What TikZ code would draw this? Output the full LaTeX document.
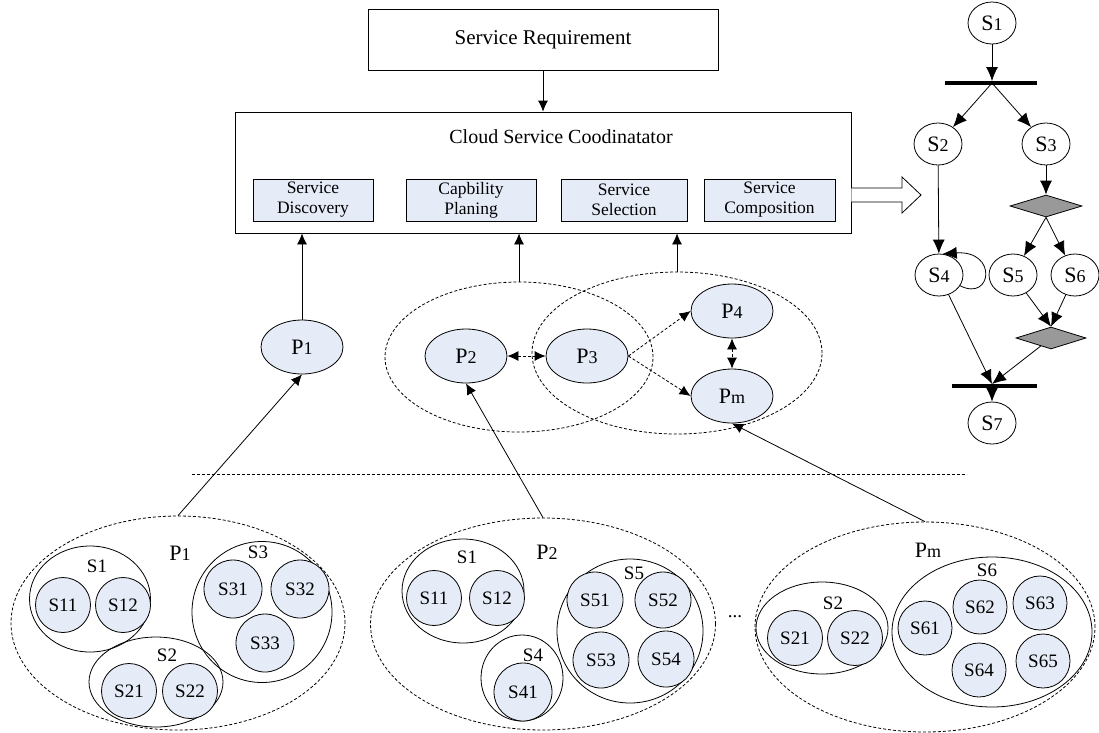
\documentclass[tikz,border=0pt]{standalone}
\usepackage{fontspec}
\setmainfont{Liberation Serif}
\usetikzlibrary{shapes.geometric,arrows.meta}
\definecolor{lb}{RGB}{230,236,247}
\definecolor{dg}{RGB}{153,153,153}
\newcommand{\fz}[1]{\fontsize{#1}{#1}\selectfont}
\newcommand{\smd}[2]{{\fontsize{#1}{#1}\selectfont #2}}
\begin{document}
\begin{tikzpicture}[x=1pt,y=-1pt,line width=0.8pt,
  arr/.style={-{Latex[length=11pt,width=10pt]}},
  farr/.style={-{Latex[length=14pt,width=12pt]}},
  darr/.style={dash pattern=on 3pt off 2pt},
  dtip/.style={{Latex[length=11pt,width=10pt]}-{Latex[length=11pt,width=10pt]}},
  bx/.style={draw,rectangle,inner sep=0pt},
  sub/.style={draw,rectangle,fill=lb,minimum height=42,inner sep=0pt,align=center,font=\fontsize{17.5}{20}\selectfont},
  pn/.style={ellipse,draw,fill=lb,minimum width=82,minimum height=54,inner sep=0pt,font=\fz{22}},
  sc/.style={circle,draw,fill=lb,minimum size=55,inner sep=0pt,font=\fz{19}},
  grp/.style={ellipse,draw,inner sep=0pt},
  dgrp/.style={ellipse,draw,inner sep=0pt,dash pattern=on 3pt off 2pt},
  fn/.style={ellipse,draw,fill=white,minimum width=48,minimum height=42,inner sep=0pt,font=\fz{22}},
  dia/.style={diamond,draw,fill=dg,minimum width=72,minimum height=22,inner sep=0pt},
  bar/.style={rectangle,fill=black,minimum height=4.5,inner sep=0pt},
  lbl/.style={inner sep=0pt,font=\fz{19}},
  plbl/.style={inner sep=0pt,font=\fz{22}}]
\useasboundingbox (0,0) rectangle (1099,732);
\fill[white] (0,0) rectangle (1099,732);

% ---- top boxes
\node[bx,minimum width=350,minimum height=61,font=\fz{21}] (sr) at (543,39.5) {Service Requirement};
\node[bx,minimum width=616,minimum height=121] (co) at (543,172.5) {};
\node[inner sep=0pt,font=\fz{20}] (cot) at (561,137) {Cloud Service Coodinatator};
\node[sub,minimum width=120] (sd) at (313,200) {Service\\Discovery};
\node[sub,minimum width=130] (cp) at (471,200) {Capbility\\Planing};
\node[sub,minimum width=126] (ss) at (624,200) {Service\\Selection};
\node[sub,minimum width=131] (sco) at (769.5,200) {Service\\Composition};
\draw[arr] (sr) -- (co);

% block arrow
\draw[fill=white] (co.east |- 0,188) -- (902,188) -- (902,177) -- (921,195) -- (902,213) -- (902,202) -- (co.east |- 0,202);

% ---- middle providers
\node[dgrp,minimum width=268,minimum height=150] (e1) at (519,357) {};
\node[dgrp,minimum width=290,minimum height=162] (e2) at (677,353) {};
\node[pn] (p1) at (302,347) {P\smd{18}{1}};
\node[pn] (p2) at (466,356) {P\smd{18}{2}};
\node[pn] (p3) at (587,356) {P\smd{18}{3}};
\node[pn] (p4) at (732,311) {P\smd{18}{4}};
\node[pn] (pm) at (732,396) {P\smd{18}{m}};
\draw[arr] (p1.north) -- (p1.north |- co.south);
\draw[arr] (e1.north) -- (e1.north |- co.south);
\draw[arr] (e2.north) -- (e2.north |- co.south);
\draw[darr,dtip] (p2) -- (p3);
\draw[darr,arr] (p3.east) -- (p4.west);
\draw[darr,arr] (p3.east) -- (pm.west);
\draw[darr,dtip] (p4) -- (pm);

% separator
\coordinate (sepl) at (192,474);
\coordinate (sepr) at (967,474);
\draw[darr] (sepl) -- (sepr);

% ---- cluster 1
\node[dgrp,minimum width=334,minimum height=214] (c1) at (178,623) {};
\node[grp,minimum width=121,minimum height=106] (g11) at (90,599) {};
\node[grp,minimum width=134,minimum height=90] (g12) at (156,682) {};
\node[grp,minimum width=140,minimum height=141] (g13) at (262,612) {};
\node[plbl] (l1p) at (180,553) {P\smd{18}{1}};
\node[lbl] (l1a) at (97,566) {S1};
\node[lbl] (l1b) at (167,655) {S2};
\node[lbl] (l1c) at (258,552) {S3};
\node[sc] (a11) at (63,605) {S11};
\node[sc] (a12) at (123,605) {S12};
\node[sc] (a21) at (129,691) {S21};
\node[sc] (a22) at (190,691) {S22};
\node[sc,minimum size=58] (a31) at (233,589) {S31};
\node[sc,minimum size=58] (a32) at (300,589) {S32};
\node[sc,minimum size=58] (a33) at (265,643) {S33};

% ---- cluster 2
\node[dgrp,minimum width=345,minimum height=212] (c2) at (543,624) {};
\node[grp,minimum width=122,minimum height=104] (g21) at (463,591) {};
\node[grp,minimum width=82,minimum height=86] (g22) at (522,678) {};
\node[grp,minimum width=146,minimum height=144] (g23) at (630,631) {};
\node[plbl] (l2p) at (547,552) {P\smd{18}{2}};
\node[lbl] (l2a) at (467,557) {S1};
\node[lbl] (l2b) at (533,655) {S4};
\node[lbl] (l2c) at (634,573) {S5};
\node[sc] (b11) at (434,598) {S11};
\node[sc] (b12) at (497,598) {S12};
\node[sc,minimum size=58] (b41) at (523,692) {S41};
\node[sc,minimum size=56] (b51) at (595,600) {S51};
\node[sc,minimum size=56] (b52) at (663,600) {S52};
\node[sc,minimum size=56] (b53) at (601,660) {S53};
\node[sc,minimum size=56] (b54) at (666,659) {S54};
\node[inner sep=0pt,font=\fz{19}] (dots) at (735,617) {...};

% ---- cluster 3
\node[dgrp,minimum width=340,minimum height=210] (c3) at (925,627) {};
\node[grp,minimum width=132,minimum height=92] (g31) at (822,628) {};
\node[grp,minimum width=200,minimum height=150] (g32) at (992,632) {};
\node[plbl] (l3p) at (928,550) {P\smd{18}{m}};
\node[lbl] (l3a) at (833,603) {S2};
\node[lbl] (l3b) at (987,570) {S6};
\node[sc] (d21) at (795,638) {S21};
\node[sc] (d22) at (855,638) {S22};
\node[sc,minimum size=54] (d61) at (925,628) {S61};
\node[sc,minimum size=54] (d62) at (980,607) {S62};
\node[sc,minimum size=54] (d63) at (1040,603) {S63};
\node[sc,minimum size=54] (d64) at (979,670) {S64};
\node[sc,minimum size=54] (d65) at (1043,661) {S65};

% cluster connectors
\draw[arr] (c1.north) -- (p1.south);
\draw[arr] (c2.north) -- (p2.south);
\draw[arr] (c3.north) -- (pm.south);

% ---- flow diagram
\node[fn] (f1) at (992,23) {S\smd{18}{1}};
\node[bar,minimum width=92] (bar1) at (991,83) {};
\coordinate (b1t) at (992,81);
\coordinate (b1) at (992,83);
\node[fn] (f2) at (938,144) {S\smd{18}{2}};
\node[fn] (f3) at (1046,144) {S\smd{18}{3}};
\node[dia] (d1) at (1046,206) {};
\node[fn] (f4) at (939,275) {S\smd{18}{4}};
\node[fn] (f5) at (1013,275) {S\smd{18}{5}};
\node[fn] (f6) at (1075,275) {S\smd{18}{6}};
\node[dia,minimum width=70] (d2) at (1051,338) {};
\node[bar,minimum width=85] (bar2) at (994.5,386) {};
\coordinate (b2t) at (992,384);
\coordinate (b2) at (992,386);
\node[fn] (f7) at (992,423) {S\smd{18}{7}};

\draw[farr] (f1) -- (b1t);
\draw[farr] (b1) -- (f2);
\draw[farr] (b1) -- (f3);
\draw[farr] (f3) -- (d1);
\draw[farr] (f2) -- (f4);
\draw[farr] (f4) .. controls (992,302) and (998,250) .. (f4.80);
\draw[farr] (d1.south) -- (f5);
\draw[farr] (d1.south) -- (f6);
\draw[farr] (f5) -- (d2.north);
\draw[farr] (f6) -- (d2.north);
\draw[farr] (f4) -- (b2t);
\draw[farr] (d2) -- (b2t);
\draw[farr] (b2) -- (f7);
\end{tikzpicture}
\end{document}
